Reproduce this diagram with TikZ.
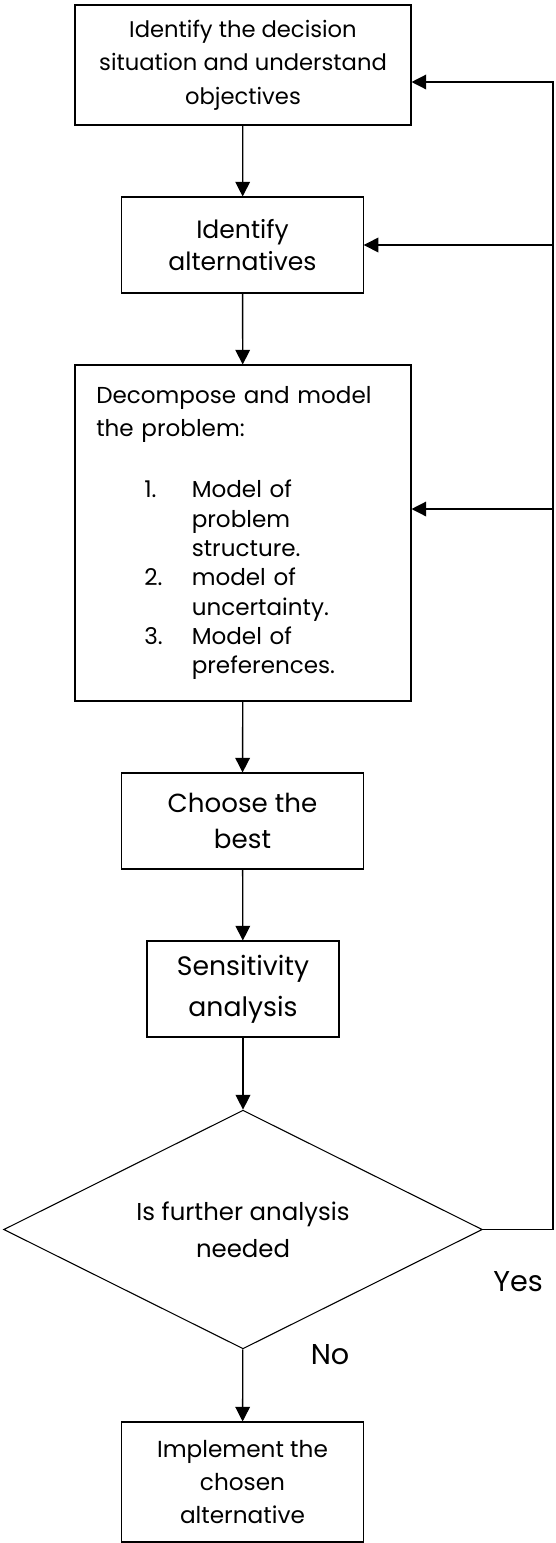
\documentclass[tikz,border=0pt]{standalone}
\usepackage{fontspec}
\setmainfont{Poppins}
\usetikzlibrary{arrows.meta,shapes.geometric}

\begin{document}
\begin{tikzpicture}[x=0.75pt, y=-0.75pt,
    stepbox/.style={draw, line width=0.8pt, align=center, inner sep=0pt},
    choice/.style={draw, diamond, aspect=2, line width=0.8pt, align=center, inner sep=0pt, minimum width=359pt, minimum height=179pt},
    arr/.style={-{Triangle[length=11pt, width=11pt]}, line width=1pt},
    lbl/.style={inner sep=0pt, font=\fontsize{21.5}{24}\selectfont},
]
    \useasboundingbox (0,0) rectangle (556,1543);

    \node[stepbox, minimum width=252pt, minimum height=90pt, font=\fontsize{17}{25}\selectfont]
        (ident) at (243, 65) {Identify the decision\\situation and understand\\objectives};
    \node[stepbox, minimum width=181pt, minimum height=72pt, font=\fontsize{18.8}{24}\selectfont]
        (alts) at (242.5, 245) {Identify\\alternatives};
    \node[stepbox, minimum width=252pt, minimum height=252pt, text width=220pt, align=left, font=\fontsize{17.3}{22}\selectfont]
        (decomp) at (243, 533) {Decompose and model\\[3pt]
        the problem:\\[24pt]
        \hspace*{36pt}\makebox[35.6pt][l]{1.}Model of\\
        \hspace*{71.6pt}problem\\
        \hspace*{71.6pt}structure.\\
        \hspace*{36pt}\makebox[35.6pt][l]{2.}model of\\
        \hspace*{71.6pt}uncertainty.\\
        \hspace*{36pt}\makebox[35.6pt][l]{3.}Model of\\
        \hspace*{71.6pt}preferences.};
    \node[stepbox, minimum width=181pt, minimum height=72pt, font=\fontsize{19.6}{27.5}\selectfont]
        (choose) at (242.5, 821) {Choose the\\best};
    \node[stepbox, minimum width=144pt, minimum height=72pt, font=\fontsize{20}{31}\selectfont]
        (sens) at (243, 989) {Sensitivity\\analysis};
    \node[choice, font=\fontsize{18.3}{27.5}\selectfont]
        (dec) at (243, 1229.5) {Is further analysis\\needed};
    \node[stepbox, minimum width=181pt, minimum height=90pt, font=\fontsize{17.4}{25}\selectfont]
        (impl) at (242.5, 1482) {Implement the\\chosen\\alternative};

    \node[lbl] (yes) at (518, 1282) {Yes};
    \node[lbl] (no) at (330, 1355) {No};

    \draw[arr] (ident) -- (alts);
    \draw[arr] (alts) -- (decomp);
    \draw[arr] (decomp) -- (choose);
    \draw[arr] (choose) -- (sens);
    \draw[arr] (sens) -- (dec);
    \draw[arr] (dec) -- (impl);

    % loop back on the right
    \coordinate (loop) at (553, 0);
    \coordinate (in1) at ([yshift=-12.75pt]ident.east);
    \coordinate (in3) at ([yshift=18pt]decomp.east);
    \draw[arr] (dec.east) -| (loop |- in1) -- (in1);
    \draw[arr] (loop |- alts.east) -- (alts.east);
    \draw[arr] (loop |- in3) -- (in3);
\end{tikzpicture}
\end{document}
